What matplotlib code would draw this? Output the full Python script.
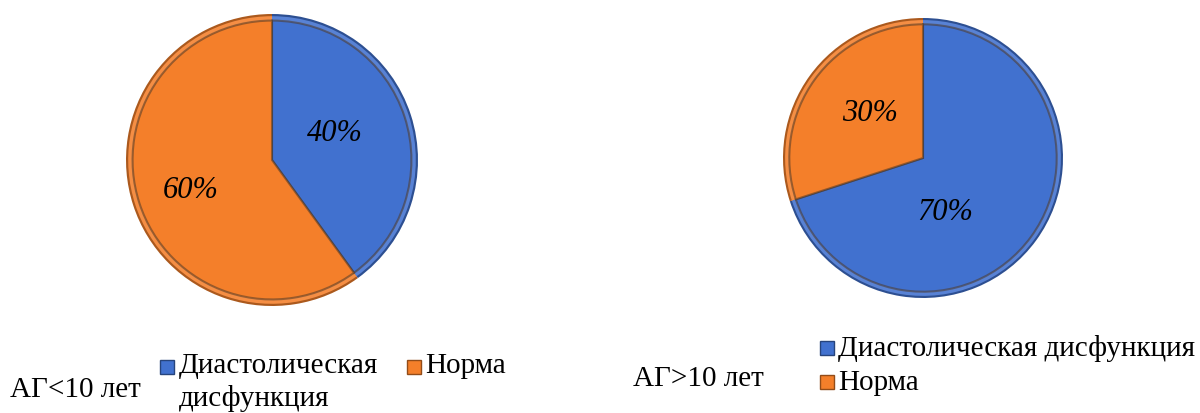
import matplotlib
matplotlib.use("Agg")
import matplotlib.pyplot as plt
from matplotlib.patches import Rectangle
import matplotlib.colors as mcolors

# %% Data

categories = ["Диастолическая дисфункция", "Норма"]
group_titles = ["АГ<10 лет", "АГ>10 лет"]
shares_short = [40, 60]   # АГ<10 лет
shares_long = [70, 30]    # АГ>10 лет

colors = ["#4171CF", "#F47F2A"]

# label offsets inside each pie (data coords, radius = 1)
label_pos = [
    [(0.43, 0.18), (-0.56, -0.21)],
    [(0.16, -0.39), (-0.38, 0.32)],
]

plt.rcParams["font.family"] = ["Liberation Serif", "DejaVu Serif"]

W, H = 1200, 413
fig = plt.figure(figsize=(W / 100, H / 100), dpi=100)


def shade(c, f):
    r, g, b = mcolors.to_rgb(c)
    return (r * f, g * f, b * f)


def lighten(c, f):
    r, g, b = mcolors.to_rgb(c)
    return (r + (1 - r) * f, g + (1 - g) * f, b + (1 - b) * f)


def draw_pie(cx, cy, r, values, positions):
    ax = fig.add_axes([(cx - r) / W, (H - cy - r) / H, 2 * r / W, 2 * r / H])
    # dark rim
    ax.pie(values, colors=[shade(c, 0.7) for c in colors], startangle=90,
           counterclock=False, radius=1.0,
           wedgeprops=dict(linewidth=0))
    # soft bevel
    ax.pie(values, colors=[lighten(c, 0.12) for c in colors], startangle=90,
           counterclock=False, radius=0.985,
           wedgeprops=dict(linewidth=0))
    # face
    ax.pie(values, colors=colors, startangle=90,
           counterclock=False, radius=0.955,
           wedgeprops=dict(linewidth=1.5,
                           edgecolor=(0.3, 0.22, 0.15, 0.55)))
    for v, (x, y) in zip(values, positions):
        ax.text(x, y, f"{v}%", ha="center", va="center", fontsize=22,
                style="italic", color="black")
    ax.set_xlim(-1, 1)
    ax.set_ylim(-1, 1)
    ax.set_aspect("equal")
    ax.axis("off")
    return ax


draw_pie(272, 160, 146, shares_short, label_pos[0])
draw_pie(923, 158, 140, shares_long, label_pos[1])


def marker(x, y, c):
    fig.patches.append(Rectangle((x / W, (H - y - 14) / H), 14 / W, 14 / H,
                                 transform=fig.transFigure, facecolor=c,
                                 edgecolor=shade(c, 0.6), linewidth=1))


fs = 21

# left legend
fig.text(10 / W, 1 - 390 / H, group_titles[0], fontsize=fs, va="center")
marker(160, 360, colors[0])
fig.text(179 / W, 1 - 366 / H, "Диастолическая", fontsize=fs, va="center")
fig.text(179 / W, 1 - 399 / H, "дисфункция", fontsize=fs, va="center")
marker(407, 360, colors[1])
fig.text(425 / W, 1 - 366 / H, categories[1], fontsize=fs, va="center")

# right legend
fig.text(633 / W, 1 - 379 / H, group_titles[1], fontsize=fs, va="center")
marker(820, 341, colors[0])
fig.text(838 / W, 1 - 349 / H, categories[0], fontsize=fs, va="center")
marker(820, 375, colors[1])
fig.text(838 / W, 1 - 383 / H, categories[1], fontsize=fs, va="center")

fig.savefig("out.png", dpi=100)
